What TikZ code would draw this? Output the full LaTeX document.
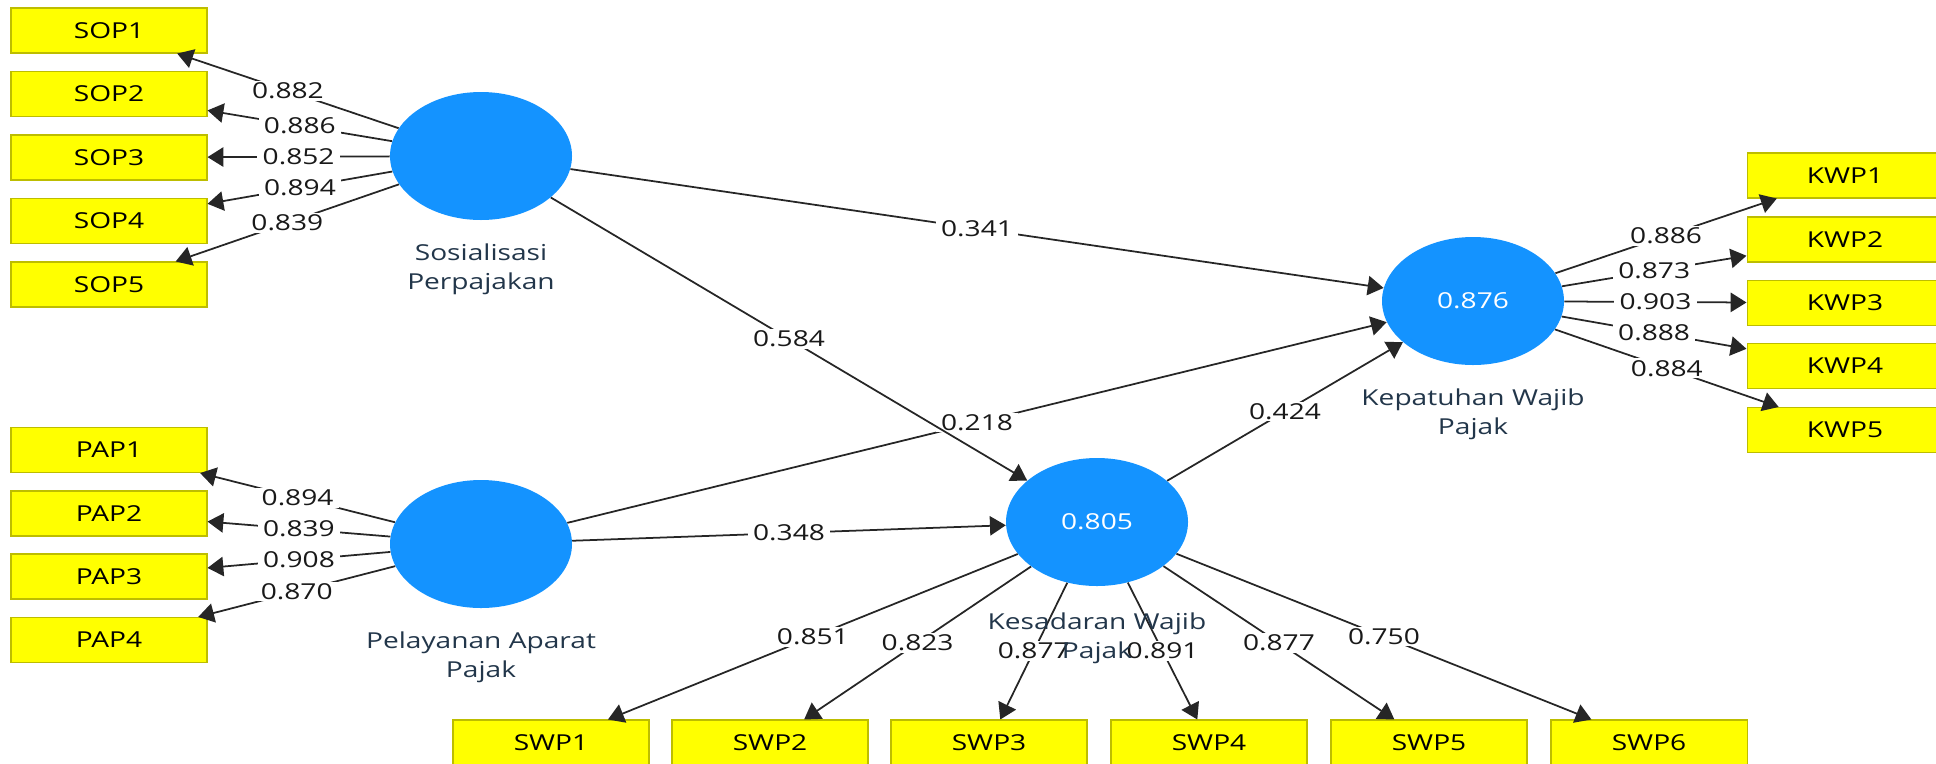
\documentclass[tikz,border=0pt]{standalone}
\usepackage{fontspec}
\setmainfont[FakeStretch=1.28]{Open Sans}
\usetikzlibrary{shapes.geometric, arrows.meta, positioning}
\definecolor{latblue}{HTML}{1493FF}
\definecolor{indyellow}{HTML}{FFFF00}
\definecolor{indedge}{HTML}{BDBD00}
\definecolor{labnavy}{HTML}{22364A}

\begin{document}
\begin{tikzpicture}[latent/.style={ellipse, fill=latblue, minimum width=3.64cm, minimum height=2.56cm, inner sep=0pt, text=white, font=\fontsize{12.5}{16.5}\selectfont},
    ind/.style={rectangle, fill=indyellow, draw=indedge, line width=0.6pt, minimum width=3.92cm, minimum height=0.9cm, inner sep=0pt, font=\fontsize{12.5}{16.5}\selectfont},
    arr/.style={draw=black!85, line width=1pt, -{Triangle[length=9pt, width=11pt]}},
    coef/.style={fill=white, inner xsep=3pt, inner ysep=1pt, text=black!90, font=\fontsize{12.5}{16.5}\selectfont},
    latname/.style={align=center, inner sep=0pt, text=labnavy, font=\fontsize{12.5}{16.5}\selectfont}]
    \useasboundingbox (0,0) rectangle (38.72,-15.26);

    % latent variables
    \node [latent](sp) at (9.62,-3.12) {};
    \node [latent](pap) at (9.62,-10.88) {};
    \node [latent](kes) at (21.94,-10.44) {0.805};
    \node [latent](kep) at (29.46,-6.02) {0.876};

    % indicators
    \node [ind](sop1) at (2.18,-0.61) {SOP1};
    \node [ind](sop2) at (2.18,-1.88) {SOP2};
    \node [ind](sop3) at (2.18,-3.15) {SOP3};
    \node [ind](sop4) at (2.18,-4.42) {SOP4};
    \node [ind](sop5) at (2.18,-5.69) {SOP5};
    \node [ind](pap1) at (2.18,-9.00) {PAP1};
    \node [ind](pap2) at (2.18,-10.27) {PAP2};
    \node [ind](pap3) at (2.18,-11.53) {PAP3};
    \node [ind](pap4) at (2.18,-12.80) {PAP4};
    \node [ind](kwp1) at (36.90,-3.51) {KWP1};
    \node [ind](kwp2) at (36.90,-4.79) {KWP2};
    \node [ind](kwp3) at (36.90,-6.06) {KWP3};
    \node [ind](kwp4) at (36.90,-7.32) {KWP4};
    \node [ind](kwp5) at (36.90,-8.60) {KWP5};
    \node [ind](swp1) at (11.02,-14.85) {SWP1};
    \node [ind](swp2) at (15.40,-14.85) {SWP2};
    \node [ind](swp3) at (19.78,-14.85) {SWP3};
    \node [ind](swp4) at (24.18,-14.85) {SWP4};
    \node [ind](swp5) at (28.58,-14.85) {SWP5};
    \node [ind](swp6) at (32.98,-14.85) {SWP6};

    % outer loadings
    \draw [arr] (sp) -- (sop1) node [midway, coef] {0.882};
    \draw [arr] (sp) -- (sop2) node [midway, coef] {0.886};
    \draw [arr] (sp) -- (sop3) node [midway, coef] {0.852};
    \draw [arr] (sp) -- (sop4) node [midway, coef] {0.894};
    \draw [arr] (sp) -- (sop5) node [midway, coef] {0.839};
    \draw [arr] (pap) -- (pap1) node [midway, coef] {0.894};
    \draw [arr] (pap) -- (pap2) node [midway, coef] {0.839};
    \draw [arr] (pap) -- (pap3) node [midway, coef] {0.908};
    \draw [arr] (pap) -- (pap4) node [midway, coef] {0.870};
    \draw [arr] (kep) -- (kwp1) node [midway, coef] {0.886};
    \draw [arr] (kep) -- (kwp2) node [midway, coef] {0.873};
    \draw [arr] (kep) -- (kwp3) node [midway, coef] {0.903};
    \draw [arr] (kep) -- (kwp4) node [midway, coef] {0.888};
    \draw [arr] (kep) -- (kwp5) node [midway, coef] {0.884};
    \draw [arr] (kes) -- (swp1) node [midway, coef] {0.851};
    \draw [arr] (kes) -- (swp2) node [midway, coef] {0.823};
    \draw [arr] (kes) -- (swp3) node [midway, coef] {0.877};
    \draw [arr] (kes) -- (swp4) node [midway, coef] {0.891};
    \draw [arr] (kes) -- (swp5) node [midway, coef] {0.877};
    \draw [arr] (kes) -- (swp6) node [midway, coef] {0.750};

    % path coefficients
    \draw [arr] (sp) -- (kep) node [midway, coef] {0.341};
    \draw [arr] (pap) -- (kep) node [midway, coef] {0.218};
    \draw [arr] (sp) -- (kes) node [midway, coef] {0.584};
    \draw [arr] (pap) -- (kes) node [midway, coef] {0.348};
    \draw [arr] (kes) -- (kep) node [midway, coef] {0.424};

    % construct names
    \node [latname, below=0.46cm of sp] (spname) {Sosialisasi\\Perpajakan};
    \node [latname, below=0.46cm of pap] (papname) {Pelayanan Aparat\\Pajak};
    \node [latname, below=0.52cm of kes] (kesname) {Kesadaran Wajib\\Pajak};
    \node [latname, below=0.46cm of kep] (kepname) {Kepatuhan Wajib\\Pajak};
\end{tikzpicture}
\end{document}
